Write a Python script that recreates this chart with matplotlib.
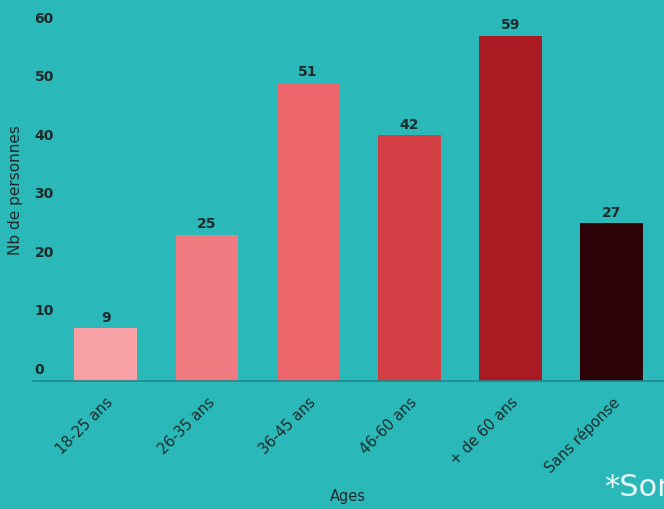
import matplotlib
matplotlib.use("Agg")
import matplotlib.pyplot as plt
import matplotlib.transforms as mtransforms
import numpy as np

plt.rcParams["font.family"] = ["DejaVu Sans"]

ages = ["18-25 ans", "26-35 ans", "36-45 ans", "46-60 ans", "+ de 60 ans", "Sans réponse"]
counts = [9, 25, 51, 42, 59, 27]
colors = ["#F7A1A6", "#EF7A7F", "#EC666C", "#D33E45", "#AA1A22", "#2C0206"]
yticks = [0, 10, 20, 30, 40, 50, 60]

bg = "#2BB8B9"
ink = "#1F2A2A"

fig = plt.figure(figsize=(6.64, 5.09), dpi=100, facecolor=bg)
ax = fig.add_axes([33 / 664, 128 / 509, 631 / 664, 381 / 509])
ax.set_facecolor(bg)

x = np.arange(len(ages))
bars = ax.bar(x, counts, width=0.62, color=colors, zorder=2)

for xi, v in zip(x, counts):
    ax.annotate(str(v), (xi, v), xytext=(0, 2.5), textcoords="offset points",
                ha="center", va="bottom", fontsize=10, fontweight="bold", color=ink)

ax.set_xlim(-0.72, 5.52)
ax.set_ylim(0, 65.1)

for s in ["top", "right", "left"]:
    ax.spines[s].set_visible(False)
ax.spines["bottom"].set_color("#1E8A8C")
ax.spines["bottom"].set_linewidth(1.2)

# y tick labels sit just above their value, inside the plot area
ax.set_yticks(yticks)
ax.tick_params(axis="y", length=0, pad=-1, labelsize=10, labelcolor=ink)
off = mtransforms.ScaledTranslation(0, 3 / 72, fig.dpi_scale_trans)
for lab in ax.get_yticklabels():
    lab.set_horizontalalignment("left")
    lab.set_verticalalignment("bottom")
    lab.set_transform(lab.get_transform() + off)
    lab.set_fontweight("bold")

ax.set_xticks(x)
ax.set_xticklabels(ages, rotation=45, ha="right", rotation_mode="anchor",
                   fontsize=10.5, color=ink)
ax.tick_params(axis="x", length=0, pad=10)

fig.text(16 / 664, 1 - 190 / 509, "Nb de personnes", rotation=90,
         ha="center", va="center", fontsize=11, color=ink)
fig.text(348 / 664, 1 - 496 / 509, "Ages", ha="center", va="center",
         fontsize=10.5, color=ink)
fig.text(604 / 664, 1 - 487 / 509, "*Sondage", ha="left", va="center",
         fontsize=22, color="#E6F7F7")

fig.savefig("out.png", dpi=100, facecolor=bg)
